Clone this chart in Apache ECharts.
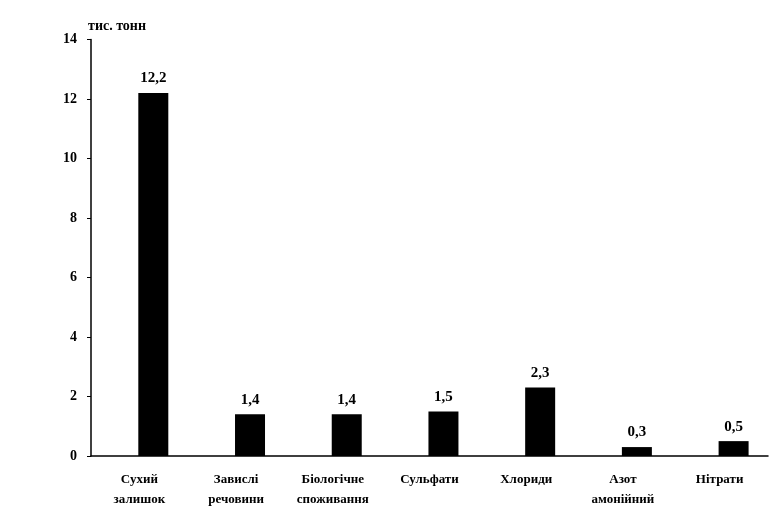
<!DOCTYPE html>
<html><head><meta charset="utf-8">
<script src="https://cdn.jsdelivr.net/npm/echarts@6/dist/echarts.min.js"></script>
<style>html,body{margin:0;padding:0;background:#fff}#c{width:782px;height:513px}</style>
</head><body><div id="c"></div>
<script>
const categories = ['Сухий\nзалишок', 'Завислі\nречовини', 'Біологічне\nспоживання', 'Сульфати', 'Хлориди', 'Азот\nамонійний', 'Нітрати'];
const values = [12.2, 1.4, 1.4, 1.5, 2.3, 0.3, 0.5];
const yTicks = [0, 2, 4, 6, 8, 10, 12, 14];
const unitLabel = 'тис. тонн';

const font = '"Liberation Serif", "DejaVu Serif", serif';
const chart = echarts.init(document.getElementById('c'));
chart.setOption({
  animation: false,
  backgroundColor: '#fff',
  grid: { left: 91, right: 14, top: 39.5, bottom: 57 },
  graphic: [{ type: 'text', left: 88, top: 19, style: { text: unitLabel, font: 'bold 14px ' + font, fill: '#000' } }],
  xAxis: {
    type: 'category', data: categories,
    axisLine: { lineStyle: { color: '#000', width: 1.5 } },
    axisTick: { alignWithLabel: false, length: 4, lineStyle: { color: '#000' } },
    axisLabel: { color: '#000', fontFamily: font, fontWeight: 'bold', fontSize: 13, lineHeight: 20, margin: 14, interval: 0 }
  },
  yAxis: {
    type: 'value', min: yTicks[0], max: yTicks[yTicks.length - 1], interval: 2,
    splitLine: { show: false },
    axisLine: { show: true, lineStyle: { color: '#000', width: 1.5 } },
    axisTick: { show: true, length: 4, lineStyle: { color: '#000' } },
    axisLabel: { color: '#000', fontFamily: font, fontWeight: 'bold', fontSize: 14, margin: 14 }
  },
  series: [
    { type: 'bar', data: values.map(() => null), barWidth: 30, barGap: '-7%', silent: true },
    {
      type: 'bar', data: values, barWidth: 30, barGap: '-7%',
      itemStyle: { color: '#000' },
      label: { show: true, position: 'top', distance: 7, color: '#000', fontFamily: font, fontWeight: 'bold', fontSize: 15,
        formatter: p => String(p.value).replace('.', ',') }
    }
  ]
});
</script></body></html>
